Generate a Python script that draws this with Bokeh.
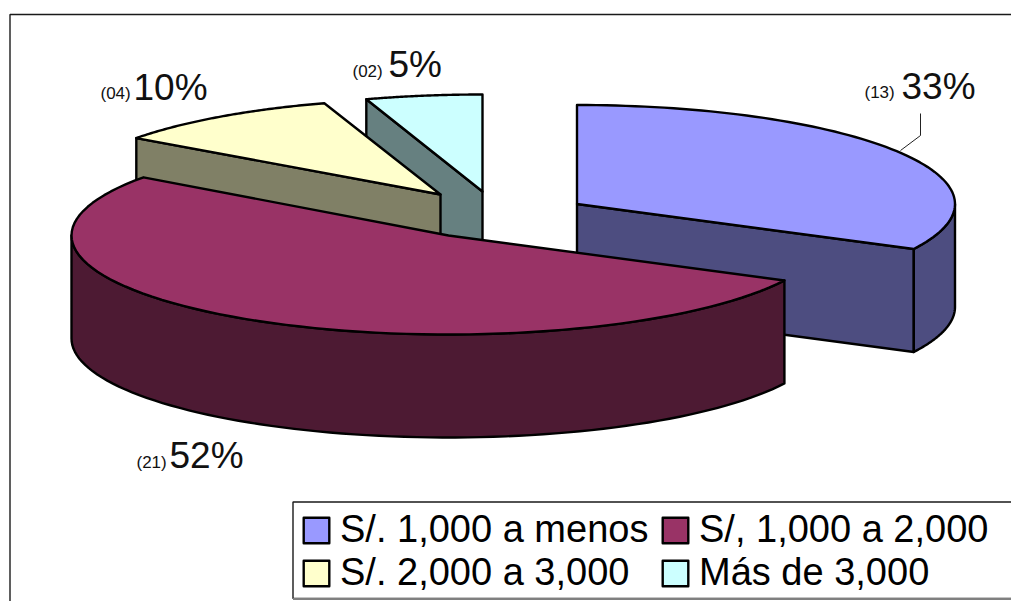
import numpy as np
from bokeh.embed import file_html
from bokeh.resources import INLINE
from bokeh.plotting import figure
from bokeh.models import Legend, LegendItem
from bokeh.core.properties import value

categories = ["S/. 1,000 a menos", "S/, 1,000 a 2,000", "S/. 2,000 a 3,000", "Más de 3,000"]
counts = [13, 21, 4, 2]
percent_labels = ["33%", "52%", "10%", "5%"]
count_labels = ["(13)", "(21)", "(04)", "(02)"]
top_colors = ["#9999FF", "#993366", "#FFFFCC", "#CCFFFF"]
side_colors = ["#4D4D80", "#4D1A33", "#808066", "#668080"]

# Layout of the exploded slices, in page pixels
centers_x = [576.5, 448, 440, 482]
centers_y = [203.5, 235, 194, 191]
radii_x = [378, 377, 376, 376]
radii_y = [99, 99, 96, 97]
depth = 103
draw_order = [3, 2, 0, 1]

pct_x = [901, 169, 133, 388]
pct_y = [86, 455, 87, 64]
cnt_x = [864, 136, 100, 352]
cnt_y = [92, 462, 93, 71]

W, H = 1011, 601
p = figure(width=W, height=H, x_range=(0, W), y_range=(H, 0), output_backend="svg",
           toolbar_location=None, min_border=0, outline_line_color=None,
           background_fill_color="white", border_fill_color="white")
p.grid.visible = False
for ax in (p.xaxis, p.yaxis):
    ax.visible = False

# outer frame (its right and bottom edges lie beyond the picture)
p.quad(left=[9.5], right=[1030], top=[14], bottom=[640], fill_color="white",
       line_color="#1a1a1a", line_width=1.4)

total = sum(counts)
edges = np.concatenate([[0], np.cumsum(counts)]) / total * 2 * np.pi


def rim(i, a0, a1, n=80):
    t = np.linspace(a0, a1, n)
    return centers_x[i] + radii_x[i] * np.sin(t), centers_y[i] - radii_y[i] * np.cos(t)


def extrude(x, y):
    return list(x) + list(x[::-1]), list(y) + list(y[::-1] + depth)


tops = {}
for i in draw_order:
    a0, a1 = edges[i], edges[i + 1]
    cx, cy = centers_x[i], centers_y[i]
    walls = []
    # outer rim, visible between 90 and 270 degrees
    lo, hi = max(a0, np.pi / 2), min(a1, 3 * np.pi / 2)
    if hi > lo:
        walls.append(rim(i, lo, hi))
    # cut face that looks at the viewer
    if i == 0:
        x, y = rim(i, a1, a1, 1)
        walls.insert(0, (np.array([cx, x[0]]), np.array([cy, y[0]])))
    if i in (2, 3):
        x, y = rim(i, a0, a0, 1)
        walls.append((np.array([x[0], cx]), np.array([y[0], cy])))
    wx, wy = [], []
    for x, y in walls:
        ex, ey = extrude(x, y)
        wx.append(ex)
        wy.append(ey)
    p.patches(wx, wy, fill_color=side_colors[i], line_color="black", line_width=2.4, line_join="round")
    x, y = rim(i, a0, a1)
    tops[i] = p.patches([[cx] + list(x)], [[cy] + list(y)], fill_color=top_colors[i],
                        line_color="black", line_width=2.4, line_join="round")

# leader line of the first slice
p.line(x=[920, 920, 900], y=[113, 135, 150], line_color="#222222", line_width=1)

p.text(x=pct_x, y=pct_y, text=percent_labels, text_font=value("Liberation Sans"),
       text_font_size="37px", text_color="#111111", text_baseline="alphabetic", text_align="left")
p.text(x=cnt_x, y=cnt_y, text=count_labels, text_font=value("Liberation Sans"),
       text_font_size="17px", text_color="#111111", text_baseline="alphabetic", text_align="left")

# legend box with its grey lower edge
p.quad(left=[292.5], right=[1030], top=[501.5], bottom=[598], fill_color="white",
       line_color="#1a1a1a", line_width=1.4)
p.line(x=[292.5, 1030], y=[598.5, 598.5], line_color="#808080", line_width=2)

items = [LegendItem(label=value(categories[i]), renderers=[tops[i]]) for i in range(4)]
legend = Legend(items=items, ncols=2, location=(300, 7), orientation="horizontal",
                background_fill_alpha=0, border_line_color=None, padding=6, margin=0,
                spacing=0, label_standoff=8, glyph_width=32, glyph_height=32,
                label_text_font="Liberation Sans", label_text_font_size="38px",
                label_text_color="black", label_height=36, label_width=319)
p.add_layout(legend, "center")

open("out.html", "w").write(file_html(p, INLINE))
